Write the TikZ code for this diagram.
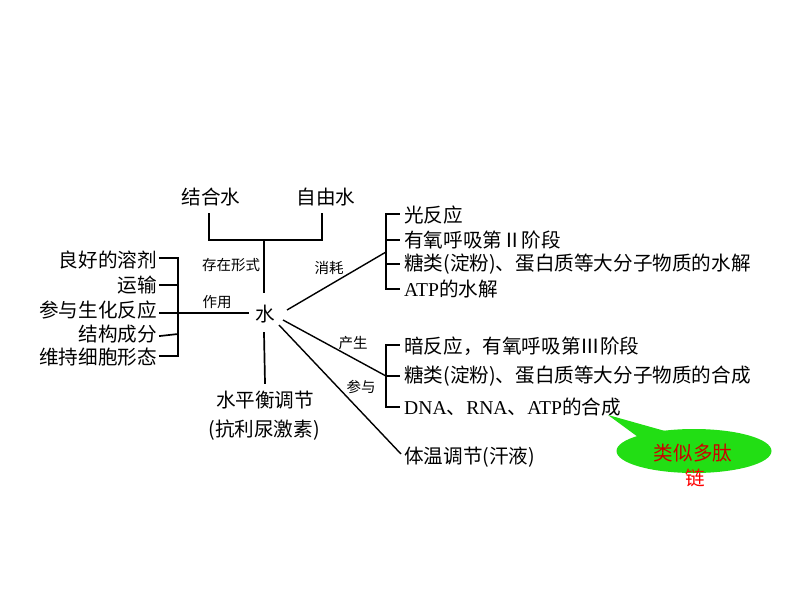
\documentclass[tikz,border=0pt]{standalone}
\usepackage{fontspec}
\setmainfont{Liberation Serif}
\newfontfamily\cjk{Noto Sans CJK SC}
\newfontfamily\lat{Liberation Serif}
\usetikzlibrary{shapes.geometric,calc}
\definecolor{callgreen}{RGB}{34,222,20}
\begin{document}
\begin{tikzpicture}[x=1pt,y=-1pt,
  big/.style={inner sep=0pt,font=\cjk\fontsize{19.6}{21}\selectfont},
  small/.style={inner sep=0pt,font=\cjk\fontsize{14.5}{16}\selectfont},
  brk/.style={line width=1.7pt,line cap=rect},
  ray/.style={line width=1.4pt},
  every node/.style={text=black}]
\useasboundingbox (0,0) rectangle (794,596);
% centre
\node[big] (shui) at (265,314) {水};
% top
\node[big] (jie) at (211,197) {结合水};
\node[big] (zi) at (326,197) {自由水};
\coordinate (tl) at (209,240);
\coordinate (tr) at (322,240);
\coordinate (tm) at (264,240);
\coordinate (tb) at (264,292);
\draw[brk] ($(jie.south)+(-2,8)$) -- (tl) -- (tr) -- ($(zi.south)+(-4,8)$);
\draw[brk] (tm) -- (tb);
\node[small] (cz) at (231,265) {存在形式};
% bottom
\coordinate (bt) at (264,333);
\node[big] (pingheng) at (265,400) {水平衡调节};
\node[big] (kang) at (264,430) {({抗利尿激素})};
\draw[brk] (bt) -- (pingheng.north |- 0,383);
% left
\node[big,anchor=east] (l1) at (157,260) {良好的溶剂};
\node[big,anchor=east] (l2) at (157,285) {运输};
\node[big,anchor=east] (l3) at (157,310) {参与生化反应};
\node[big,anchor=east] (l4) at (157,334) {结构成分};
\node[big,anchor=east] (l5) at (157,357) {维持细胞形态};
\coordinate (lb1) at (178,258);
\coordinate (lb5) at (178,356);
\coordinate (lm) at (178,313);
\coordinate (le) at (248,313);
\draw[brk] ($(l1.east)+(3,-2)$) -- (lb1) -- (lb5) -- ($(l5.east)+(3,-1)$);
\draw[brk] ($(l2.east)+(3,0)$) -- (l2.east -| lb1);
\draw[brk] ($(l3.east)+(3,3)$) -- (lm);
\draw[brk] ($(l4.east)+(3,2)$) -- (l4.east -| lb1);
\draw[brk] (lm) -- (le);
\node[small] (zy) at (217,302) {作用};
% consume
\node[big,anchor=west] (r1) at (404,215) {光反应};
\node[big,anchor=west] (r2) at (404,240) {有氧呼吸第Ⅱ阶段};
\node[big,anchor=west] (r3) at (404,264) {糖类({淀粉})、蛋白质等大分子物质的水解};
\node[big,anchor=west] (r4) at (404,289) {{\lat ATP}的水解};
\coordinate (b1t) at (386,214);
\coordinate (b1b) at (386,289);
\coordinate (b1m) at (386,252);
\draw[brk] ($(r1.west)+(-5,-1)$) -- (b1t) -- (b1b) -- ($(r4.west)+(-5,0)$);
\draw[brk] ($(r2.west)+(-5,0)$) -- (r2.west -| b1t);
\draw[brk] ($(r3.west)+(-5,0)$) -- (r3.west -| b1t);
\coordinate (s1) at ($(shui)+(22,-4)$);
\draw[ray] (s1) -- (b1m);
\node[small] (xh) at (329,268) {消耗};
% produce
\node[big,anchor=west] (p1) at (404,346) {暗反应，有氧呼吸第Ⅲ阶段};
\node[big,anchor=west] (p2) at (404,376) {糖类({淀粉})、蛋白质等大分子物质的合成};
\node[big,anchor=west] (p3) at (404,407) {{\lat DNA}、{\lat RNA}、{\lat ATP}的合成};
\coordinate (b2t) at (386,345);
\coordinate (b2b) at (386,407);
\coordinate (b2m) at (386,376);
\draw[brk] ($(p1.west)+(-5,-1)$) -- (b2t) -- (b2b) -- ($(p3.west)+(-5,0)$);
\draw[brk] ($(p2.west)+(-5,0)$) -- (b2m);
\coordinate (s2) at ($(shui)+(18,6)$);
\draw[ray] (s2) -- (b2m);
\node[small] (cs) at (353,343) {产生};
% participate
\node[big,anchor=west] (t1) at (404,457) {体温调节({汗液})};
\coordinate (s3) at ($(shui)+(14,11)$);
\draw[ray] (s3) -- ($(t1.west)+(-3,-3)$);
\node[small] (cy) at (361,387) {参与};
% callout
\coordinate (tip) at (608,415);
\node[ellipse,fill=callgreen,minimum width=155pt,minimum height=44pt,inner sep=0pt] (bub) at (694,451) {};
\fill[callgreen] (tip) -- (638,437) -- (665,431) -- cycle;
\node[big,text=red!80!black] (cb1) at (693,453) {类似多肽};
\node[big,text=red] (cb2) at (695,478) {链};
\end{tikzpicture}
\end{document}
